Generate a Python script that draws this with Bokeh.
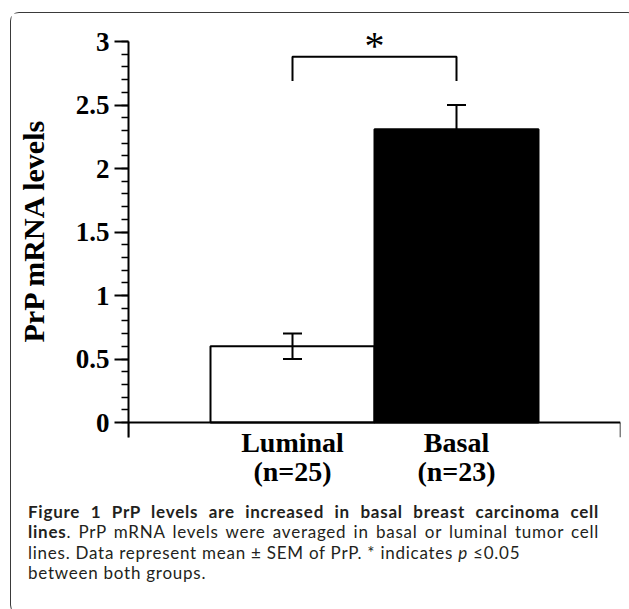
from bokeh.plotting import figure
from bokeh.models import (Range1d, FixedTicker, Whisker, TeeHead, LinearAxis,
                          ColumnDataSource, Div)
from bokeh.layouts import column
from bokeh.core.properties import value
from bokeh.embed import file_html
from bokeh.resources import INLINE

# ---- data ----
categories = ["Luminal", "Basal"]
counts = ["(n=25)", "(n=23)"]
means = [0.60, 2.31]
sem = [0.10, 0.19]
positions = [1, 2]
bar_fills = ["white", "black"]

y_tick_values = [0, 0.5, 1, 1.5, 2, 2.5, 3]
y_tick_labels = ["0", "0.5", "1", "1.5", "2", "2.5", "3"]
y_minor_values = [round(i * 0.1, 1) for i in range(31)]

bracket_top = 2.88
bracket_leg = 2.69
sig_text = "*"
sig_text_y = 2.97

caption_title = "Figure 1 PrP levels are increased in basal breast carcinoma cell"
caption_title_end = "lines"
caption_line2 = ". PrP mRNA levels were averaged in basal or luminal tumor cell"
caption_line3 = "lines. Data represent mean \u00b1 SEM of PrP. * indicates"
caption_p = "p"
caption_p_val = "\u22640.05"
caption_line4 = "between both groups."

SERIF = "Liberation Serif"
SANS = "Lato"

p = figure(width=615, height=484, frame_width=492, frame_height=415,
           min_border_left=117, min_border_right=6, min_border_top=9,
           min_border_bottom=60,
           x_range=Range1d(0, 3), y_range=Range1d(-0.118, 3.15),
           output_backend="svg", toolbar_location=None, tools="",
           x_axis_location=None)
p.grid.visible = False
p.outline_line_color = None
p.background_fill_color = "white"
p.border_fill_color = "white"

# y axis
ya = p.yaxis[0]
ya.ticker = FixedTicker(ticks=y_tick_values, minor_ticks=y_minor_values)
ya.bounds = (-0.118, 3)
ya.major_label_overrides = dict(zip(y_tick_values, y_tick_labels))
ya.axis_line_width = 2
ya.axis_line_color = "black"
ya.major_tick_line_width = 2
ya.major_tick_line_color = "black"
ya.major_tick_in = 0
ya.major_tick_out = 14
ya.minor_tick_line_width = 1.5
ya.minor_tick_line_color = "black"
ya.minor_tick_in = 0
ya.minor_tick_out = 7
ya.major_label_standoff = 5
ya.major_label_text_font = SERIF
ya.major_label_text_font_style = "bold"
ya.major_label_text_font_size = "27px"
ya.major_label_text_color = "black"
ya.axis_label = "PrP mRNA levels"
ya.axis_label_text_font = SERIF
ya.axis_label_text_font_style = "bold"
ya.axis_label_text_font_size = "30px"
ya.axis_label_text_color = "black"
ya.axis_label_standoff = 23

# x axis line with end ticks, at y = 0
xa = LinearAxis(fixed_location=0, ticker=FixedTicker(ticks=[0, 3]),
                bounds=(0, 3), major_label_overrides={0: "", 3: ""},
                axis_line_width=2, axis_line_color="black",
                major_tick_line_width=1.5, major_tick_line_color="black",
                major_tick_in=0, major_tick_out=15,
                minor_tick_line_color=None)
p.add_layout(xa, "below")

# category names and counts as tick labels (stacked below the frame)
def label_axis(texts, standoff):
    ax = LinearAxis(ticker=FixedTicker(ticks=positions),
                    major_label_overrides=dict(zip(positions, texts)),
                    axis_line_color=None, major_tick_line_color=None,
                    minor_tick_line_color=None,
                    major_tick_in=0, major_tick_out=0,
                    major_label_standoff=standoff,
                    major_label_text_font=SERIF,
                    major_label_text_font_style="bold",
                    major_label_text_font_size="28px",
                    major_label_text_color="black")
    p.add_layout(ax, "below")

label_axis(categories, -11)
label_axis(counts, -5)

# bars
src = ColumnDataSource(dict(
    x=positions, top=means, fill=bar_fills,
    upper=[m + s for m, s in zip(means, sem)],
    lower=[m - s for m, s in zip(means, sem)],
))
p.vbar(x="x", top="top", bottom=0, width=1, source=src,
       fill_color="fill", line_color="black", line_width=2)

w = Whisker(base="x", upper="upper", lower="lower", source=src,
            line_color="black", line_width=2, level="annotation",
            upper_head=TeeHead(size=19, line_width=2, line_color="black"),
            lower_head=TeeHead(size=19, line_width=2, line_color="black"))
p.add_layout(w)

# significance bracket
p.line(x=[positions[0], positions[0], positions[1], positions[1]],
       y=[bracket_leg, bracket_top, bracket_top, bracket_leg],
       line_color="black", line_width=2)
p.text(x=[(positions[0] + positions[1]) / 2], y=[sig_text_y], text=[sig_text],
       text_font=value(SERIF), text_font_style="normal", text_font_size="40px",
       text_align="center", text_baseline="alphabetic", text_color="black")

# caption
jl = "text-align:justify;text-align-last:justify;"
caption_html = (
    f'<div style="font-family:\'{SANS}\';font-size:17px;line-height:20.4px;'
    f'letter-spacing:0.75px;color:#231f20;padding:0 10px 0 12px;width:593px;">'
    f'<div style="{jl}"><b>{caption_title}</b></div>'
    f'<div style="{jl}"><b>{caption_title_end}</b>{caption_line2}</div>'
    f'<div>{caption_line3} <i>{caption_p}</i> {caption_p_val}</div>'
    f'<div>{caption_line4}</div>'
    f'</div>'
)
cap = Div(text=caption_html, width=615, height=106)

layout = column(p, cap, margin=(12, 0, 0, 10),
                styles={"border": "1.5px solid #3a3a3a",
                        "border-radius": "9px"})

open("out.html", "w").write(file_html(layout, INLINE))
